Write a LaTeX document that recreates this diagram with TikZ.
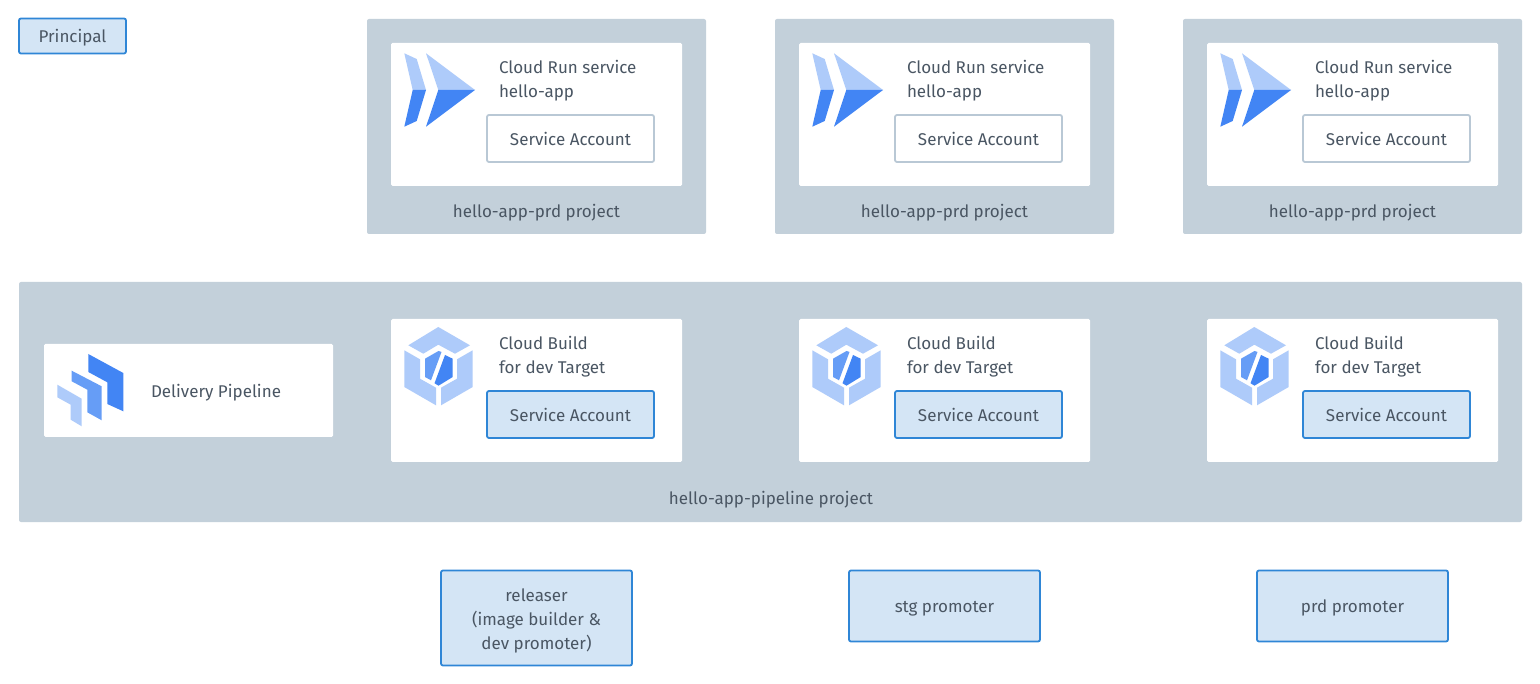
\documentclass[tikz,border=0pt]{standalone}
\usepackage{fontspec}
\setmainfont{Fira Sans}
\usetikzlibrary{positioning}
\definecolor{bandgray}{HTML}{C3D0DA}
\definecolor{inkgray}{HTML}{4A5663}
\definecolor{rolefill}{HTML}{D4E5F5}
\definecolor{roleline}{HTML}{2F86D6}
\definecolor{saline}{HTML}{B9C8D5}
\definecolor{iconlight}{HTML}{AECBFA}
\definecolor{iconmid}{HTML}{669DF6}
\definecolor{icondark}{HTML}{4285F4}
\newcommand{\txtstrut}{\rule[-3pt]{0pt}{20pt}}
\tikzset{x=1pt,y=-1pt,node distance=408pt,
  every node/.style={font=\fontsize{17}{24}\selectfont,text=inkgray,inner sep=0pt,outer sep=0pt,
    execute at begin node=\txtstrut,execute at end node=\txtstrut},
  project/.style={fill=bandgray,rounded corners=2pt,minimum width=339pt,minimum height=215pt},
  pipeline/.style={fill=bandgray,rounded corners=2pt,minimum width=1503pt,minimum height=240pt},
  card/.style={fill=white,rounded corners=1.5pt,minimum width=291pt,minimum height=143pt},
  wide card/.style={fill=white,rounded corners=1.5pt,minimum width=289pt,minimum height=93pt},
  plain sa/.style={draw=saline,line width=1.8pt,fill=white,rounded corners=2pt,minimum width=167pt,minimum height=47pt},
  role/.style={draw=roleline,line width=1.8pt,fill=rolefill,rounded corners=2pt,align=center},
  blue sa/.style={role,minimum width=167pt,minimum height=47pt},
  role box/.style={role,minimum width=191pt,minimum height=71pt},
  tall role/.style={role,minimum width=191pt,minimum height=95pt},
  captiontext/.style={anchor=west,align=left},
  runicon/.pic={
    \fill [iconlight] (13.3,10.3) -- (25.7,16) -- (35,47) -- (21.7,47) -- cycle;
    \fill [icondark]  (21.7,47) -- (35,47) -- (25.7,78) -- (13.3,83.7) -- cycle;
    \fill [iconlight] (35,10.3) -- (84,47) -- (47.3,47) -- cycle;
    \fill [icondark]  (47.3,47) -- (84,47) -- (35,83.7) -- cycle;
  },
  buildicon/.pic={
    \fill [iconlight] (47.3,8) -- (79,26.3) -- (64,34.7) -- (47.3,25.7) -- (32.3,34.7) -- (17.3,26.3) -- cycle;
    \fill [iconlight] (13.3,31.3) -- (29,40.3) -- (29,59.7) -- (45,68.7) -- (45,86.3) -- (13.3,68) -- cycle;
    \fill [iconlight] (81.7,31.3) -- (66,40.3) -- (66,59.7) -- (50,68.7) -- (50,86.3) -- (81.7,68) -- cycle;
    \fill [iconmid]   (34,39.7) -- (47.5,32) -- (50.5,33) -- (40,61.3) -- (34,58) -- cycle;
    \fill [icondark]  (54,36) -- (61.7,39.7) -- (61.7,58) -- (47.5,66.7) -- (43.5,64.3) -- cycle;
  },
  pipeicon/.pic={
    \fill [icondark]  (44.3,10) -- (79.3,29) -- (79.3,67.3) -- (63.3,60) -- (63.3,38.3) -- (44.3,28) -- cycle;
    \fill [iconmid]   (27.7,26.7) -- (57.7,42.3) -- (57.7,76.3) -- (43.3,68.3) -- (43.3,45.7) -- (27.7,37.3) -- cycle;
    \fill [iconlight] (13.3,40.7) -- (37.7,54.7) -- (37.7,82.3) -- (26.7,75.7) -- (26.7,60.7) -- (13.3,53.3) -- cycle;
  }
}
\begin{document}
\begin{tikzpicture}
  \useasboundingbox (0,0) rectangle (1540,684);

  \node [role,minimum width=107pt,minimum height=35pt] (principal) at (72.5,36) {Principal};

  \node [project] (prjdev) at (536.5,126.5) {};
  \node [project] (prjstg) [right of=prjdev] {};
  \node [project] (prjprd) [right of=prjstg] {};
  \node (prjdevtxt) at (536.5,211)      {hello-app-prd project};
  \node (prjstgtxt) [right of=prjdevtxt] {hello-app-prd project};
  \node (prjprdtxt) [right of=prjstgtxt] {hello-app-prd project};

  \node [card] (rundev) at (536.5,114.5) {};
  \node [card] (runstg) [right of=rundev] {};
  \node [card] (runprd) [right of=runstg] {};
  \pic at (rundev.north west) {runicon};
  \pic at (runstg.north west) {runicon};
  \pic at (runprd.north west) {runicon};
  \node [captiontext] (rundevtxt) at ([shift={(108,38)}]rundev.north west) {Cloud Run service\\hello-app};
  \node [captiontext] (runstgtxt) [right of=rundevtxt] {Cloud Run service\\hello-app};
  \node [captiontext] (runprdtxt) [right of=runstgtxt] {Cloud Run service\\hello-app};
  \node [plain sa] (sadev) at (570.5,138.5) {Service Account};
  \node [plain sa] (sastg) [right of=sadev] {Service Account};
  \node [plain sa] (saprd) [right of=sastg] {Service Account};

  \node [pipeline] (pipeprj) at (770.5,402) {};
  \node (pipetxt) at (771,498) {hello-app-pipeline project};
  \node [wide card] (delivery) at (188.5,390.5) {};
  \pic at (delivery.north west) {pipeicon};
  \node [captiontext] (deliverytxt) at (151,390.5) {Delivery Pipeline};

  \node [card] (builddev) at (536.5,390.5) {};
  \node [card] (buildstg) [right of=builddev] {};
  \node [card] (buildprd) [right of=buildstg] {};
  \pic at (builddev.north west) {buildicon};
  \pic at (buildstg.north west) {buildicon};
  \pic at (buildprd.north west) {buildicon};
  \node [captiontext] (builddevtxt) at ([shift={(108,38)}]builddev.north west) {Cloud Build\\for dev Target};
  \node [captiontext] (buildstgtxt) [right of=builddevtxt] {Cloud Build\\for dev Target};
  \node [captiontext] (buildprdtxt) [right of=buildstgtxt] {Cloud Build\\for dev Target};
  \node [blue sa] (bsadev) at (570.5,414.5) {Service Account};
  \node [blue sa] (bsastg) [right of=bsadev] {Service Account};
  \node [blue sa] (bsaprd) [right of=bsastg] {Service Account};

  \node [tall role] (releaser) at (536.5,618) {};
  \node [align=center] (releasertxt) at ([shift={(0,3)}]releaser.center) {releaser\\(image builder \&\\dev promoter)};
  \node [role box] (stgprom) at (944.5,606) {stg promoter};
  \node [role box] (prdprom) [right of=stgprom] {prd promoter};
\end{tikzpicture}
\end{document}
